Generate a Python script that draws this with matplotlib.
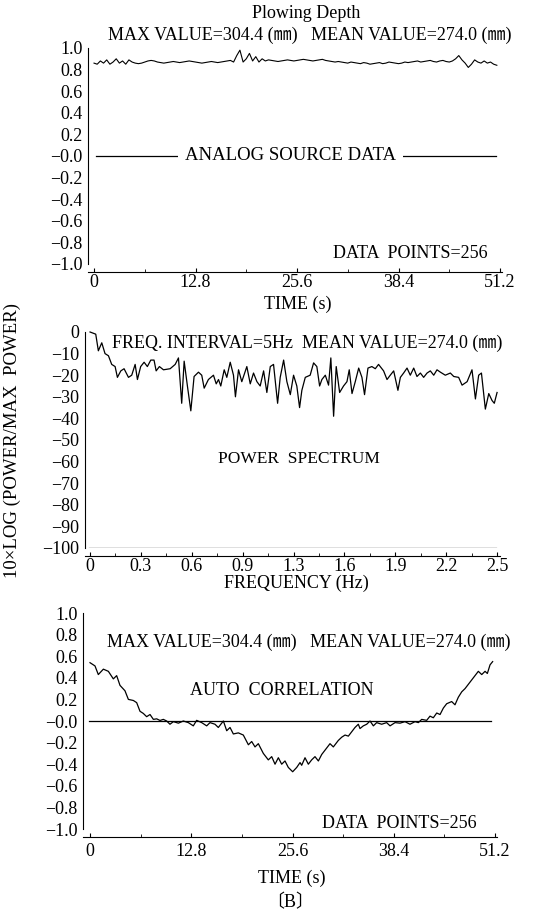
import matplotlib
matplotlib.use('Agg')
import matplotlib.pyplot as plt
import numpy as np

plt.rcParams['font.family'] = ['Liberation Serif', 'Noto Sans CJK JP']
plt.rcParams['mathtext.default'] = 'regular'

W, H = 549, 918

# --- analog source data (normalised), 128 samples shown, 0.4 s apart
src_t = np.arange(128) * 0.4
src_v = [0.86, 0.85, 0.88, 0.86, 0.89, 0.85, 0.87, 0.90, 0.86, 0.88, 0.85, 0.89, 0.87,
         0.86, 0.855, 0.86, 0.87, 0.88, 0.885, 0.88, 0.87, 0.865, 0.86, 0.865, 0.87,
         0.875, 0.87, 0.865, 0.87, 0.875,
         0.88, 0.875, 0.87, 0.865, 0.86, 0.865, 0.87, 0.875, 0.87, 0.865, 0.87, 0.875,
         0.88, 0.885,
         0.87, 0.93, 0.98, 0.87, 0.90, 0.95, 0.88, 0.92, 0.87, 0.90, 0.88,
         0.89, 0.885, 0.88, 0.875, 0.88, 0.885, 0.89, 0.885, 0.88, 0.885, 0.89, 0.895,
         0.89, 0.885, 0.88, 0.885, 0.89, 0.895, 0.885, 0.88,
         0.875, 0.87, 0.875, 0.87, 0.865, 0.86, 0.87, 0.865, 0.86, 0.855, 0.865, 0.86,
         0.85, 0.855, 0.86, 0.865, 0.855, 0.86, 0.87, 0.865, 0.86, 0.855, 0.86, 0.87, 0.865,
         0.87, 0.875, 0.88, 0.87, 0.875, 0.88, 0.885, 0.875, 0.87, 0.88, 0.885, 0.875,
         0.87, 0.88, 0.90, 0.93, 0.89, 0.86, 0.82, 0.85, 0.89, 0.87, 0.86, 0.88, 0.86,
         0.87, 0.85, 0.84]

# --- power spectrum, dB relative to max
spec_f = [0.0, 0.035, 0.051, 0.072, 0.092, 0.113, 0.133, 0.154, 0.168, 0.189, 0.209,
          0.236, 0.256, 0.277, 0.291, 0.311, 0.332, 0.352, 0.373, 0.393, 0.406, 0.426,
          0.451, 0.492, 0.523, 0.543, 0.563, 0.578, 0.598, 0.619, 0.639, 0.666, 0.686,
          0.701, 0.727, 0.758, 0.775, 0.789, 0.803, 0.824, 0.840, 0.861, 0.881, 0.893,
          0.912, 0.932, 0.963, 0.984, 1.004, 1.025, 1.045, 1.066, 1.086, 1.107, 1.127,
          1.152, 1.168, 1.189, 1.209, 1.230, 1.250, 1.270, 1.287, 1.301, 1.322, 1.352,
          1.373, 1.393, 1.410, 1.424, 1.445, 1.465, 1.479, 1.496, 1.512, 1.533, 1.557,
          1.578, 1.592, 1.609, 1.629, 1.650, 1.670, 1.686, 1.707, 1.731, 1.752, 1.772,
          1.803, 1.824, 1.844, 1.865, 1.891, 1.906, 1.926, 1.947, 1.967, 1.988, 2.008,
          2.029, 2.049, 2.070, 2.090, 2.111, 2.131, 2.152, 2.182, 2.213, 2.234, 2.264,
          2.285, 2.316, 2.346, 2.367, 2.387, 2.404, 2.428, 2.449, 2.469, 2.483, 2.500]
spec_db = [0, -1, -8.7, -5, -10, -11, -15, -16, -21, -18, -17,
           -21, -20, -15, -22, -16, -14, -16, -13, -13, -18, -16,
           -17.5, -17, -15, -12, -33, -13.5, -25, -36.5, -20.6, -18.6, -20,
           -26, -22, -20, -24, -22, -25, -17.5, -21, -14, -20, -30,
           -17.5, -23, -16, -24, -19, -23, -25, -18, -28, -16, -15,
           -33, -21, -13, -23, -29, -20, -25, -35, -27, -21, -20,
           -14.3, -16, -25, -22, -20, -24.6, -12, -39, -16, -28, -25,
           -23, -17.5, -28.5, -23, -16.7, -21, -29, -16.7, -16, -17, -15,
           -18, -22, -20, -18, -27, -21, -19, -16.7, -20, -16.7, -20.6,
           -19, -21, -19, -18, -20, -17.5, -18.6, -20, -19, -20.6, -21,
           -24.6, -23, -17.5, -31, -20, -19, -35.7, -28.5, -31.7, -33, -28]

# --- auto correlation
ac_t = [0.0, 0.63, 1.05, 1.69, 2.32, 2.95, 3.37, 3.79, 4.42, 4.85, 5.48, 5.90, 6.32,
        6.74, 7.16, 7.59, 8.01, 8.43, 8.85, 9.27, 9.69, 10.11, 10.54, 11.17, 11.80,
        12.43, 13.06, 13.48, 14.12, 14.75, 15.17, 15.80, 16.22, 16.86, 17.28, 17.70,
        18.12, 18.75, 19.38, 20.02, 20.44, 20.86, 21.28, 21.91, 22.54, 22.97, 23.39,
        23.81, 24.23, 24.65, 25.07, 25.62, 26.13, 26.55, 26.76, 27.18, 27.60, 28.02,
        28.44, 28.87, 29.29, 29.92, 30.34, 30.76, 31.39, 31.82, 32.24, 32.66, 33.08,
        33.50, 33.92, 34.13, 34.55, 34.98, 35.40, 35.82, 36.24, 36.87, 37.50, 37.93,
        38.56, 39.19, 39.82, 40.45, 41.09, 41.51, 41.93, 42.56, 42.98, 43.40, 43.83,
        44.25, 44.67, 45.09, 45.72, 46.14, 46.56, 46.99, 47.41, 47.83, 48.25, 48.67,
        49.09, 49.52, 49.94, 50.23, 50.57, 50.90]
ac_v = [0.54, 0.51, 0.43, 0.48, 0.46, 0.39, 0.42, 0.33, 0.28, 0.20, 0.19, 0.17, 0.09,
        0.07, 0.04, 0.06, 0.015, 0.02, 0.005, 0.015, 0.0, -0.03, -0.006, -0.02, 0.0,
        -0.015, -0.045, 0.006, -0.015, -0.045, -0.015, -0.03, -0.06, 0.0, -0.09, -0.06,
        -0.12, -0.11, -0.13, -0.22, -0.19, -0.24, -0.21, -0.30, -0.36, -0.33, -0.40,
        -0.34, -0.40, -0.37, -0.43, -0.47, -0.43, -0.385, -0.41, -0.34, -0.40, -0.36,
        -0.33, -0.37, -0.31, -0.25, -0.21, -0.24, -0.18, -0.15, -0.13, -0.14, -0.10,
        -0.06, -0.03, -0.07, -0.045, -0.03, 0.0, -0.045, -0.015, -0.03, -0.015, -0.045,
        -0.015, -0.02, -0.006, -0.03, -0.006, -0.015, 0.015, 0.006, 0.045, 0.03, 0.074,
        0.06, 0.12, 0.16, 0.18, 0.15, 0.22, 0.27, 0.30, 0.34, 0.38, 0.42,
        0.46, 0.43, 0.46, 0.44, 0.52, 0.55]

time_ticks = [0, 12.8, 25.6, 38.4, 51.2]
time_labels = ['0', '12.8', '25.6', '38.4', '51.2']
freq_ticks = [0, 0.3125, 0.625, 0.9375, 1.25, 1.5625, 1.875, 2.1875, 2.5]
freq_labels = ['0', '0.3', '0.6', '0.9', '1.3', '1.6', '1.9', '2.2', '2.5']
corr_ticks = [1.0, 0.8, 0.6, 0.4, 0.2, 0.0, -0.2, -0.4, -0.6, -0.8, -1.0]
corr_labels = ['1.0', '0.8', '0.6', '0.4', '0.2', '\u22120.0', '\u22120.2', '\u22120.4',
               '\u22120.6', '\u22120.8', '\u22121.0']
db_ticks = [0, -10, -20, -30, -40, -50, -60, -70, -80, -90, -100]
db_labels = ['0'] + ['\u2212' + str(-v) for v in db_ticks[1:]]

MM = '(\u339c)'
FS = 13
TFS = 13


def px_axes(fig, left, right, top, bottom):
    return fig.add_axes([left / W, 1 - bottom / H, (right - left) / W, (bottom - top) / H])


def ftext(fig, x, y, s, **kw):
    kw.setdefault('fontsize', FS)
    kw.setdefault('va', 'center')
    fig.text(x / W, 1 - y / H, s, **kw)


def style(ax, xticks, xlabels, yticks, ylabels, ylo, yhi, xpad=1):
    for side in ['top', 'right']:
        ax.spines[side].set_visible(False)
    ax.spines['bottom'].set_position(('outward', 6))
    ax.spines['left'].set_bounds(ylo, yhi)
    ax.set_xticks(xticks)
    ax.set_xticklabels(xlabels, fontsize=TFS)
    mids = [(a + b) / 2 for a, b in zip(xticks[:-1], xticks[1:])]
    ax.set_xticks(mids, minor=True)
    ax.tick_params(axis='x', which='major', direction='in', length=3, pad=xpad)
    ax.tick_params(axis='x', which='minor', direction='in', length=2)
    ax.set_yticks(yticks)
    ax.set_yticklabels(ylabels, fontsize=TFS)
    ax.tick_params(axis='y', which='major', length=0, pad=4)
    # small bracket hooks at both ends of the y spine
    ax.set_yticks([ylo, yhi], minor=True)
    ax.tick_params(axis='y', which='minor', length=3, direction='out', width=0.9)


fig = plt.figure(figsize=(W / 100, H / 100), dpi=100)
fig.patch.set_facecolor('white')

# top: analog source
ax1 = px_axes(fig, 88, 502, 48, 264)
ax1.plot(src_t, src_v, color='black', lw=0.8)
ax1.set_xlim(-0.76, 51.45)
ax1.set_ylim(-1.0, 1.0)
ax1.axhline(0, xmin=0.02, xmax=0.985, color='black', lw=0.9)
style(ax1, time_ticks, time_labels, corr_ticks, corr_labels, -1.0, 1.0)
ax1.text(24.8, 0.0, 'ANALOG SOURCE DATA', ha='center', va='center', fontsize=13.5,
         bbox=dict(facecolor='white', edgecolor='none', pad=5))

# middle: power spectrum
ax2 = px_axes(fig, 85, 500, 332, 548)
ax2.plot(spec_f, spec_db, color='black', lw=0.9, clip_on=False)
ax2.set_xlim(-0.031, 2.518)
ax2.set_ylim(-100, 0)
ax2.axhline(-100, xmin=0.01, xmax=0.99, color='black', lw=0.9)
style(ax2, freq_ticks, freq_labels, db_ticks, db_labels, -100, 0)
ax2.text(1.28, -59, 'POWER  SPECTRUM', ha='center', va='center', fontsize=12.5)

# bottom: auto correlation
ax3 = px_axes(fig, 83, 497, 613, 829)
ax3.plot(ac_t, ac_v, color='black', lw=0.9)
ax3.set_xlim(-0.885, 51.45)
ax3.set_ylim(-1.0, 1.0)
ax3.axhline(0, xmin=0.015, xmax=0.985, color='black', lw=0.9)
style(ax3, time_ticks, time_labels, corr_ticks, corr_labels, -1.0, 1.0, xpad=4)
ax3.text(24.3, 0.28, 'AUTO  CORRELATION', ha='center', va='center', fontsize=FS)

# figure texts
ftext(fig, 306, 13, 'Plowing Depth', ha='center')
ftext(fig, 108, 35, 'MAX VALUE=304.4 ' + MM + '   MEAN VALUE=274.0 ' + MM, ha='left')
ftext(fig, 488, 254, 'DATA  POINTS=256', ha='right')
ftext(fig, 298, 304, 'TIME (s)', ha='center')
ftext(fig, 112, 343, 'FREQ. INTERVAL=5Hz  MEAN VALUE=274.0 ' + MM, ha='left')
ftext(fig, 296, 583, 'FREQUENCY (Hz)', ha='center')
ftext(fig, 12, 440, '10\u00d7LOG (POWER/MAX  POWER)', ha='center', rotation=90,
      fontsize=13.5)
ftext(fig, 107, 642, 'MAX VALUE=304.4 ' + MM + '   MEAN VALUE=274.0 ' + MM, ha='left')
ftext(fig, 477, 823, 'DATA  POINTS=256', ha='right')
ftext(fig, 292, 878, 'TIME (s)', ha='center')
ftext(fig, 290, 903, '\u3014B\u3015', ha='center')

fig.savefig('out.png', dpi=100, facecolor='white')
